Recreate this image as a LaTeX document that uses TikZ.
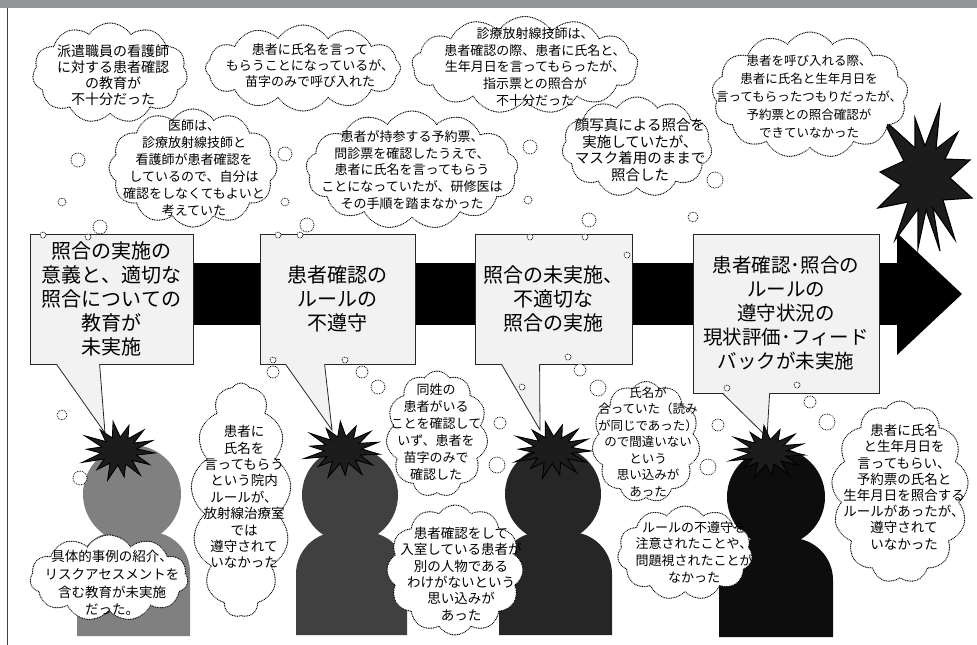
\documentclass[tikz,border=0pt]{standalone}
\usepackage{fontspec}
\newfontfamily\jp{Noto Sans CJK JP}
\usetikzlibrary{shapes.symbols,calc}
\definecolor{barcol}{HTML}{939598}
\definecolor{boxfill}{HTML}{F2F2F2}
\definecolor{pone}{HTML}{808080}
\definecolor{ptwo}{HTML}{404040}
\definecolor{pthree}{HTML}{262626}
\definecolor{pfour}{HTML}{0D0D0D}
\definecolor{burst}{HTML}{1C1C1C}
% spiky burst: centre x, centre y, outer half-width, outer half-height, turn
\newcommand\spikyburst[5]{%
  \fill[burst,draw=black,line width=0.9pt,line join=miter]
    plot[variable=\k,samples at={0,...,27}]
    ({#1+ifthenelse(mod(\k,2)==0,1+0.1*sin(\k*97),0.5)*#3*cos(\k*360/28+#5)},
     {#2+ifthenelse(mod(\k,2)==0,1+0.1*sin(\k*97),0.5)*#4*sin(\k*360/28+#5)}) -- cycle;}
\begin{document}
\begin{tikzpicture}[x=1pt,y=-1pt,
  causebox/.style={draw=black!85,line width=0.8pt,fill=boxfill,inner sep=0pt,align=center,
    font=\jp\fontsize{20}{24}\selectfont},
  dots/.style={draw=black,line width=1.3pt,line cap=round,dash pattern=on 0.01pt off 1.7pt},
  bubble/.style={cloud,cloud puffs=#1,cloud puff arc=115,cloud ignores aspect,dots,
    fill=white,inner sep=0pt},
  btext/.style={align=center,inner sep=0pt,text=black},
  trail/.style={circle,dots,line width=1.1pt,fill=white,inner sep=0pt,minimum size=#1},
  pointer/.style={draw=black!85,line width=0.8pt}
]
\useasboundingbox (0,0) rectangle (977,645);

% frame
\fill[barcol] (0,0) rectangle (977,8);
\draw[black!75,line width=1pt] (7,8) -- (7,645);

% main arrow
\fill[black] (30,263) rectangle (897,325);
\fill[black] (897,233) -- (962,294) -- (897,355) -- cycle;

% large burst near the arrow head
\fill[burst,draw=black,line width=1.1pt,line join=miter]
  (970,160) -- (945,159) -- (958,132) -- (936,149) -- (940,106) -- (925,146)
  -- (915,118) -- (915,148) -- (882,118) -- (904,161) -- (880,172) -- (901,185)
  -- (878,208) -- (908,202) -- (895,240) -- (918,209) -- (918,248) -- (926,210)
  -- (940,251) -- (933,208) -- (955,240) -- (943,200) -- (972,198) -- (950,178) -- cycle;

% people
\fill[pone] (77,636) [rounded corners=40]-- (77,532) -- (190,532) [sharp corners]-- (190,636) -- cycle;
\fill[pone] (132,494) circle (49);
\fill[ptwo] (296,635) [rounded corners=42]-- (296,532) -- (407,532) [sharp corners]-- (407,635) -- cycle;
\fill[ptwo] (350,495) circle (48);
\fill[pthree] (499,635) [rounded corners=42]-- (499,532) -- (612,532) [sharp corners]-- (612,635) -- cycle;
\fill[pthree] (553,494) circle (48);
\fill[pfour] (719,637) [rounded corners=42]-- (719,538) -- (833,538) [sharp corners]-- (833,637) -- cycle;
\fill[pfour] (776,497) circle (49);

% cause boxes
\node[causebox,minimum width=163pt,minimum height=130pt] (c1) at (111.5,299)
  {照合の実施の\\意義と、適切な\\照合についての\\教育が\\未実施};
\node[causebox,minimum width=155pt,minimum height=130pt] (c2) at (337.5,299)
  {患者確認の\\ルールの\\不遵守};
\node[causebox,minimum width=157pt,minimum height=130pt] (c3) at (553.5,299)
  {照合の未実施、\\不適切な\\照合の実施};
\node[causebox,minimum width=186pt,minimum height=159pt,font=\jp\fontsize{19.5}{24}\selectfont] (c4) at (786,313.5)
  {患者確認･照合の\\ルールの\\遵守状況の\\現状評価･フィード\\バックが未実施};

% callout tails from the boxes down to the heads
\coordinate (t1) at (105,433);
\coordinate (t2) at (332,430);
\coordinate (t3) at (540,430);
\coordinate (t4) at (767,437);
\foreach \b/\t/\l/\r in {c1/t1/27/70, c2/t2/26/65, c3/t3/27/65, c4/t4/30/77}{
  \fill[boxfill] ($(\b.south west)+(\l,-0.8)$) -- (\t) -- ($(\b.south west)+(\r,-0.8)$) -- cycle;
  \draw[pointer] ($(\b.south west)+(\l,0)$) -- (\t) -- ($(\b.south west)+(\r,0)$);
}

% bursts on the heads
\spikyburst{119}{451}{36}{28}{4}
\spikyburst{343}{450}{37}{27}{9}
\spikyburst{553}{450}{38}{27}{2}
\spikyburst{768}{452}{37}{25}{7}

% thought bubbles, upper row
\node[bubble=11,minimum width=155pt,minimum height=100pt] (b1) at (110,73) {};
\node[btext,font=\jp\fontsize{14}{15.8}\selectfont] (b1t) at (113,75)
  {派遣職員の看護師\\に対する患者確認\\の教育が\\不十分だった};
\node[bubble=12,minimum width=195pt,minimum height=86pt] (b2) at (303,68) {};
\node[btext,font=\jp\fontsize{13}{16}\selectfont] (b2t) at (310,66)
  {患者に氏名を言って\\もらうことになっているが、\\苗字のみで呼び入れた};
\node[bubble=13,minimum width=226pt,minimum height=97pt] (b3) at (525,65) {};
\node[btext,font=\jp\fontsize{13}{16.6}\selectfont] (b3t) at (535,67)
  {診療放射線技師は、\\患者確認の際、患者に氏名と、\\生年月日を言ってもらったが、\\指示票との照合が\\不十分だった};
\node[bubble=13,minimum width=196pt,minimum height=126pt] (b4) at (810,95) {};
\node[btext,font=\jp\fontsize{12.5}{18}\selectfont] (b4t) at (809,97)
  {患者を呼び入れる際、\\患者に氏名と生年月日を\\言ってもらったつもりだったが、\\予約票との照合確認が\\できていなかった};
\node[bubble=12,minimum width=168pt,minimum height=118pt] (b5) at (193,168) {};
\node[btext,font=\jp\fontsize{13}{17}\selectfont] (b5t) at (194,168)
  {医師は、\\診療放射線技師と\\看護師が患者確認を\\しているので、自分は\\確認をしなくてもよいと\\考えていた};
\node[bubble=13,minimum width=212pt,minimum height=118pt] (b6) at (412,170) {};
\node[btext,font=\jp\fontsize{13}{16.8}\selectfont] (b6t) at (412,170)
  {患者が持参する予約票、\\問診票を確認したうえで、\\患者に氏名を言ってもらう\\ことになっていたが、研修医は\\その手順を踏まなかった};
\node[bubble=11,minimum width=150pt,minimum height=100pt] (b7) at (637,147) {};
\node[btext,font=\jp\fontsize{14.5}{16.7}\selectfont] (b7t) at (640,150)
  {顔写真による照合を\\実施していたが、\\マスク着用のままで\\照合した};

% thought bubbles, lower row
\node[bubble=11,minimum width=158pt,minimum height=86pt] (b8) at (109,578) {};
\node[btext,font=\jp\fontsize{13.5}{17.7}\selectfont] (b8t) at (112,583)
  {具体的事例の紹介、\\リスクアセスメントを\\含む教育が未実施\\だった。};
\node[bubble=13,minimum width=100pt,minimum height=234pt] (b9) at (241,500) {};
\node[btext,font=\jp\fontsize{13.5}{16.4}\selectfont] (b9t) at (244,497)
  {患者に\\氏名を\\言ってもらう\\という院内\\ルールが、\\放射線治療室\\では\\遵守されて\\いなかった};
\node[bubble=11,minimum width=102pt,minimum height=126pt] (b10) at (437,434) {};
\node[btext,font=\jp\fontsize{13}{17}\selectfont] (b10t) at (436,432)
  {同姓の\\患者がいる\\ことを確認して\\いず、患者を\\苗字のみで\\確認した};
\node[bubble=12,minimum width=136pt,minimum height=130pt] (b11) at (455,570) {};
\node[btext,font=\jp\fontsize{13.5}{16.4}\selectfont] (b11t) at (461,574)
  {患者確認をして\\入室している患者が\\別の人物である\\わけがないという\\思い込みが\\あった};
\node[bubble=11,minimum width=108pt,minimum height=121pt] (b12) at (646,442) {};
\node[btext,font=\jp\fontsize{12.5}{16.5}\selectfont] (b12t) at (648,442)
  {氏名が\\合っていた（読み\\が同じであった）\\ので間違いない\\という\\思い込みが\\あった};
\node[bubble=11,minimum width=135pt,minimum height=94pt] (b13) at (685,553) {};
\node[btext,font=\jp\fontsize{13}{16.7}\selectfont] (b13t) at (694,552)
  {ルールの不遵守を\\注意されたことや、\\問題視されたことが\\なかった};
\node[bubble=13,minimum width=137pt,minimum height=182pt] (b14) at (900,492) {};
\node[btext,font=\jp\fontsize{13.5}{16.2}\selectfont] (b14t) at (904,487)
  {患者に氏名\\と生年月日を\\言ってもらい、\\予約票の氏名と\\生年月日を照合する\\ルールがあったが、\\遵守されて\\いなかった};

% small trailing puffs
\foreach \x/\y/\d [count=\i] in {
  78/160/14, 62/202/8, 285/154/14, 285/202/8, 530/147/14, 528/200/8,
  715/180/16, 693/217/10, 589/220/14,
  100/227/14, 88/237/6, 43/235/6, 307/225/14, 300/235/6, 278/235/6,
  585/237/6, 530/237/6, 627/255/6,
  62/415/10, 80/478/14,
  273/360/6, 273/372/12, 345/360/6, 362/372/12, 378/387/14,
  500/423/12, 497/465/16,
  568/357/6, 580/370/12, 598/388/16, 522/387/6,
  718/425/12, 708/467/16,
  727/388/6, 797/385/6, 810/402/12, 827/422/16}{
  \node[trail=\d pt] (tp\i) at (\x,\y) {};
}
\end{tikzpicture}
\end{document}
